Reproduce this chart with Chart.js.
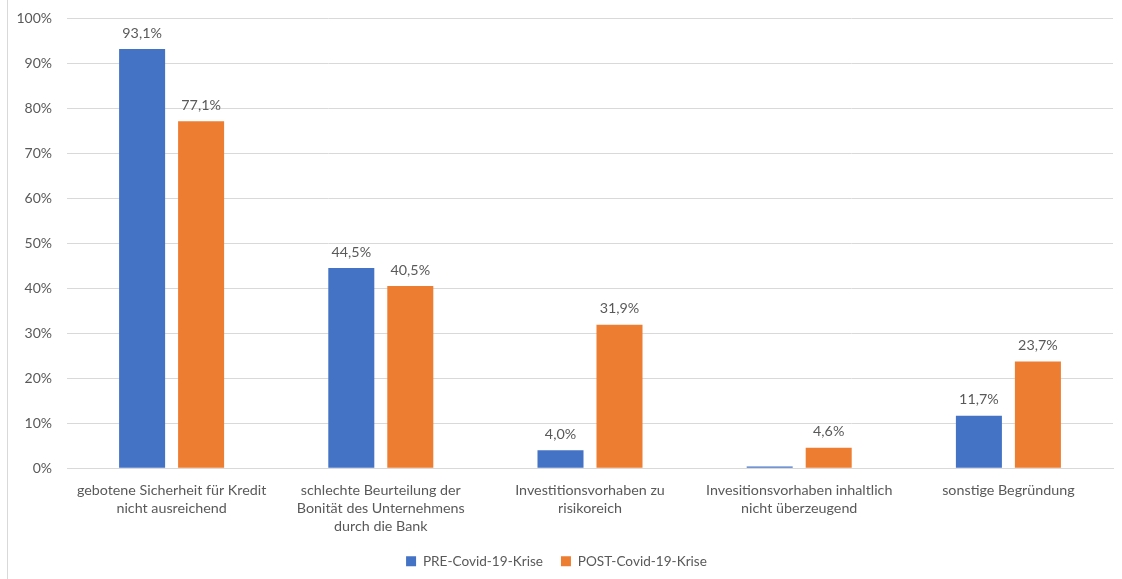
<!DOCTYPE html>
<html>
<head>
<meta charset="utf-8">
<script src="https://cdn.jsdelivr.net/npm/chart.js@4/dist/chart.umd.min.js"></script>
<style>
  html, body { margin: 0; padding: 0; background: #fff; }
  #wrap { position: relative; width: 1122px; height: 579px; }
  #edge { position: absolute; left: 7px; top: 0; width: 1px; height: 579px; background: #d9d9d9; }
  canvas { position: absolute; left: 0; top: 0; }
</style>
</head>
<body>
<div id="wrap">
  <div id="edge"></div>
  <canvas id="c" width="1122" height="579"></canvas>
</div>
<script>
const categories = [
  ["gebotene Sicherheit für Kredit", "nicht ausreichend"],
  ["schlechte Beurteilung der", "Bonität des Unternehmens", "durch die Bank"],
  ["Investitionsvorhaben zu", "risikoreich"],
  ["Invesitionsvorhaben inhaltlich", "nicht überzeugend"],
  ["sonstige Begründung"]
];
const preValues = [93.1, 44.5, 4.0, 0.4, 11.7];
const postValues = [77.1, 40.5, 31.9, 4.6, 23.7];
const seriesNames = ["PRE-Covid-19-Krise", "POST-Covid-19-Krise"];
const yTicks = [0, 10, 20, 30, 40, 50, 60, 70, 80, 90, 100];

const FONT = "Lato, 'Open Sans', sans-serif";
const GRAY = "#595959";

const labelPlugin = {
  id: 'barLabels',
  afterDatasetsDraw(chart) {
    const ctx = chart.ctx;
    ctx.save();
    ctx.font = "14.3px " + FONT;
    ctx.fillStyle = GRAY;
    ctx.textAlign = 'center';
    ctx.textBaseline = 'middle';
    chart.data.datasets.forEach((ds, di) => {
      const meta = chart.getDatasetMeta(di);
      meta.data.forEach((bar, i) => {
        const v = ds.data[i];
        if (v < 1) return;
        const txt = v.toFixed(1).replace('.', ',') + '%';
        ctx.fillText(txt, bar.x, bar.y - 16);
      });
    });
    ctx.restore();
  }
};

new Chart(document.getElementById('c'), {
  type: 'bar',
  data: {
    labels: categories,
    datasets: [
      { label: seriesNames[0], data: preValues, backgroundColor: '#4472C4', borderWidth: 0 },
      { label: seriesNames[1], data: postValues, backgroundColor: '#ED7D31', borderWidth: 0 }
    ]
  },
  options: {
    responsive: false,
    animation: false,
    devicePixelRatio: 1,
    layout: { padding: { left: 0, right: 9, top: 18, bottom: 1 } },
    scales: {
      x: {
        afterFit(axis) { axis.height -= 12; },
        grid: { display: false, drawTicks: false },
        border: { display: true, color: '#d9d9d9' },
        ticks: { color: GRAY, font: { family: FONT, size: 14.3, lineHeight: 1.26 }, padding: 13, maxRotation: 0, autoSkip: false }
      },
      y: {
        min: 0, max: 100,
        afterFit(axis) { axis.width = 67; axis.paddingTop = 0; axis.paddingBottom = 0; },
        afterBuildTicks(axis) { axis.ticks = yTicks.map(v => ({ value: v })); },
        grid: { color: '#d9d9d9', drawTicks: false },
        border: { display: false },
        ticks: { color: GRAY, font: { family: FONT, size: 14 }, padding: 15, callback: v => v + '%' }
      }
    },
    plugins: {
      legend: {
        position: 'bottom',
        labels: { color: GRAY, font: { family: FONT, size: 13.6 }, boxWidth: 10, boxHeight: 10, padding: 18 }
      },
      tooltip: { enabled: false }
    },
    datasets: { bar: { categoryPercentage: 0.564, barPercentage: 0.78 } }
  },
  plugins: [labelPlugin]
});
</script>
</body>
</html>
